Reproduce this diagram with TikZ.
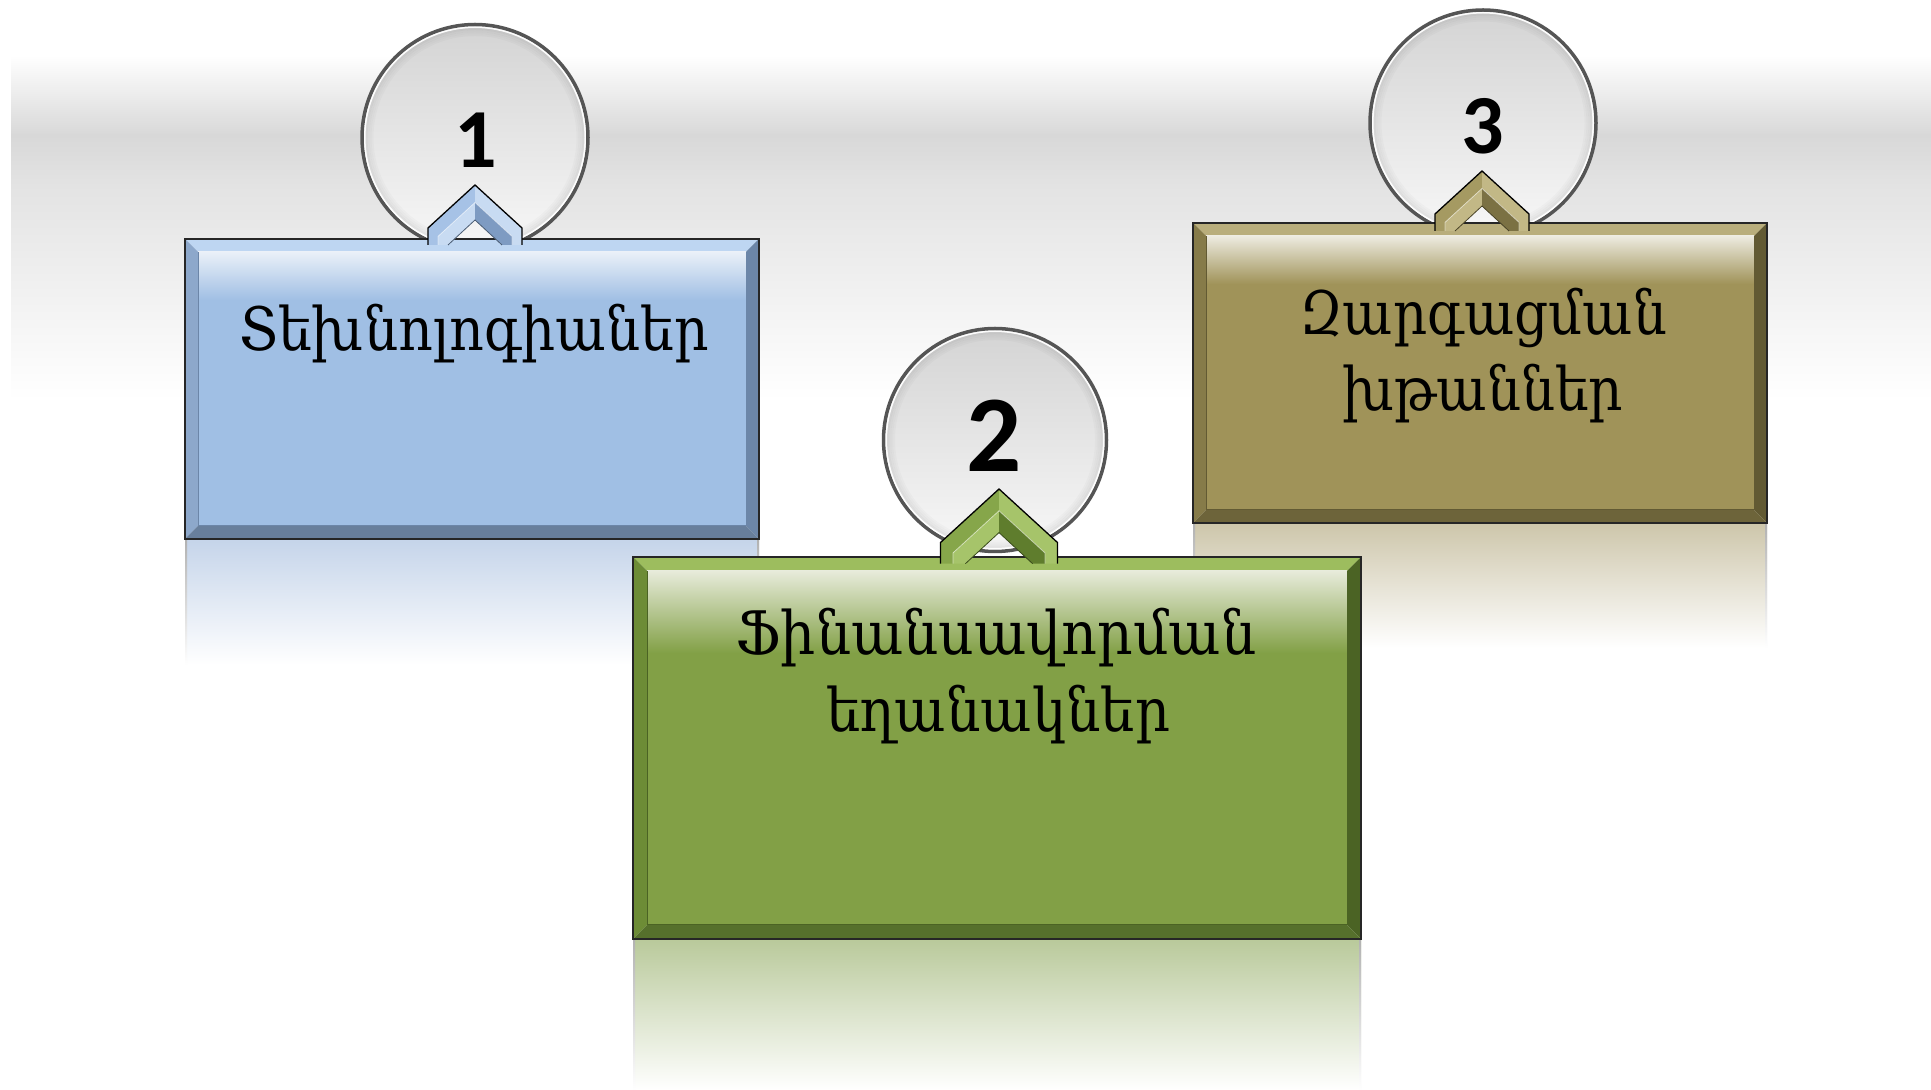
\documentclass[tikz,border=0pt]{standalone}
\usepackage{fontspec}
\usepackage{graphicx}
\newfontfamily\armfont{DejaVu Serif}
\newfontfamily\numfont{Carlito}

\definecolor{bgA}{HTML}{D8D8D8}
\definecolor{bgB}{HTML}{E3E3E3}
% blue
\definecolor{bmain}{HTML}{A0BFE4}
\definecolor{btop}{HTML}{BED6F2}
\definecolor{bleft}{HTML}{8DA8CB}
\definecolor{bright}{HTML}{6C86A8}
\definecolor{bbot}{HTML}{687F9C}
\definecolor{bgloss}{HTML}{EAF0F8}
\definecolor{brefl}{HTML}{C6D5EA}
\definecolor{bchev}{HTML}{A6C2E6}
\definecolor{bchevhi}{HTML}{C8DBF2}
\definecolor{bchevlo}{HTML}{7E9BC2}
% green
\definecolor{gmain}{HTML}{82A046}
\definecolor{gtop}{HTML}{9DBD5E}
\definecolor{gleft}{HTML}{6D8C36}
\definecolor{gright}{HTML}{4B6324}
\definecolor{gbot}{HTML}{56702C}
\definecolor{ggloss}{HTML}{E7EBDA}
\definecolor{grefl}{HTML}{BACA9C}
\definecolor{gchev}{HTML}{86A64A}
\definecolor{gchevhi}{HTML}{A6C46A}
\definecolor{gchevlo}{HTML}{5F7D2D}
% olive
\definecolor{omain}{HTML}{A09359}
\definecolor{otop}{HTML}{B9AE7C}
\definecolor{oleft}{HTML}{867B49}
\definecolor{oright}{HTML}{625A33}
\definecolor{obot}{HTML}{6D643A}
\definecolor{ogloss}{HTML}{EDEBE0}
\definecolor{orefl}{HTML}{CEC7AC}
\definecolor{ochev}{HTML}{A59A62}
\definecolor{ochevhi}{HTML}{C2B886}
\definecolor{ochevlo}{HTML}{7B7143}
\definecolor{rimgray}{HTML}{555555}

\newsavebox\fitbox
\newcommand\fitw[2]{\sbox\fitbox{#2}\pgfmathsetmacro\fitr{#1/\the\wd\fitbox}\scalebox{\fitr}[1]{\usebox\fitbox}}

% x1,y1,x2,y2,frame,prefix,gloss
\newcommand\bevbox[7]{%
 \fill[#6top] (#1,#4) -- (#3,#4) -- ({#3-#5},{#4-#5}) -- ({#1+#5},{#4-#5}) -- cycle;
 \fill[#6left] (#1,#2) -- (#1,#4) -- ({#1+#5},{#4-#5}) -- ({#1+#5},{#2+#5}) -- cycle;
 \fill[#6right] (#3,#2) -- (#3,#4) -- ({#3-#5},{#4-#5}) -- ({#3-#5},{#2+#5}) -- cycle;
 \fill[#6bot] (#1,#2) -- (#3,#2) -- ({#3-#5},{#2+#5}) -- ({#1+#5},{#2+#5}) -- cycle;
 \fill[#6main] ({#1+#5},{#2+#5}) rectangle ({#3-#5},{#4-#5});
 \shade[top color=#6gloss, bottom color=#6main] ({#1+#5},{#4-#5-#7}) rectangle ({#3-#5},{#4-#5});
 \draw[#6right, line width=1pt] ({#1+#5},{#4-#5}) -- ({#1+#5},{#2+#5}) -- ({#3-#5},{#2+#5}) -- ({#3-#5},{#4-#5});
 \draw[black!85, line width=2pt] (#1,#2) rectangle (#3,#4);
}
% x1,x2,ytop,ybottom,colour
\newcommand\refl[5]{%
 \shade[top color=#5, bottom color=white] (#1,#4) rectangle (#2,#3);
 \shade[top color=black!30, bottom color=white] (#1,#4) rectangle ({#1+2},#3);
 \shade[top color=black!30, bottom color=white] ({#2-2},#4) rectangle (#2,#3);
}
% cx, apex y, scale, prefix
\newcommand\chev[4]{%
 \begin{scope}[shift={(#1,#2)}, scale=#3]
  \fill[#4chev] (-47,-43) -- (0,0) -- (0,-17.5) -- (-37,-51.4) -- (-37,-60) -- (-47,-60) -- cycle;
  \fill[#4chevhi] (-37,-51.4) -- (0,-17.5) -- (0,-35) -- (-27,-60) -- (-37,-60) -- cycle;
  \fill[#4chevhi] (47,-43) -- (0,0) -- (0,-17.5) -- (37,-51.4) -- (37,-60) -- (47,-60) -- cycle;
  \fill[#4chevlo] (37,-51.4) -- (0,-17.5) -- (0,-35) -- (27,-60) -- (37,-60) -- cycle;
  \draw[white, opacity=0.5, line width=0.8pt] (-37,-60) -- (-37,-51.4) -- (0,-17.5) -- (37,-51.4) -- (37,-60);
  \draw[#4chevlo!60!black, line width=0.8pt] (-27,-60) -- (0,-35) -- (27,-60);
  \draw[black, line width=1.3pt, line join=miter] (-47,-60) -- (-47,-43) -- (0,0) -- (47,-43) -- (47,-60);
 \end{scope}}

\tikzset{
 glass/.style={circle, inner sep=0pt, minimum size=#1, top color=black!17, bottom color=black!3, draw=rimgray, line width=3.5pt},
 num/.style={font=\numfont\bfseries\fontsize{84}{84}\selectfont, inner sep=0pt, anchor=base},
 txt/.style={font=\armfont\fontsize{60}{72}\selectfont, inner sep=0pt, anchor=base}
}
\newcommand\glassdeco[2]{%
 \draw[white, line width=1.5pt, opacity=0.95] (#1.center) circle[radius={#2-2.8}];
 \draw[black, line width=2pt, opacity=0.07] (#1.center) circle[radius={#2-4.5}];
 \draw[black, line width=2pt, opacity=0.05] (#1.center) circle[radius={#2-6.5}];
 \draw[black, line width=2pt, opacity=0.035] (#1.center) circle[radius={#2-8.5}];
 \draw[black, line width=2pt, opacity=0.02] (#1.center) circle[radius={#2-10.5}];
}

\begin{document}
\begin{tikzpicture}[x=1pt,y=1pt]
\useasboundingbox (0,0) rectangle (1931,1090);
% background
\fill[white] (0,0) rectangle (1931,1090);
\shade[top color=white, bottom color=bgA] (11,954.5) rectangle (1931,1035);
\shade[top color=bgA, bottom color=bgB] (11,904.5) rectangle (1931,955);
\shade[top color=bgB, bottom color=white] (11,690) rectangle (1931,905);

% reflections
\refl{185}{759}{549}{425}{brefl}
\refl{1193}{1767}{565}{442}{orefl}
\refl{633}{1361}{149}{0}{grefl}

% item 1
\node[glass=226pt] (c1) at (475,952.5) {};
\glassdeco{c1}{113}
\node[num] (n1) at (476,922) {1};
\bevbox{185}{551}{759}{851}{13}{b}{48}
\chev{475}{905}{1}{b}

% item 3
\node[glass=226pt] (c3) at (1483,967) {};
\glassdeco{c3}{113}
\node[num] (n3) at (1483,936.4) {3};
\bevbox{1193}{567}{1767}{867}{13}{o}{48}
\chev{1482}{919}{1}{o}

% item 2
\node[glass=223pt] (c2) at (995,650) {};
\glassdeco{c2}{111.5}
\node[num, font=\numfont\bfseries\fontsize{109}{109}\selectfont] (n2) at (994,618) {2};
\bevbox{633}{151}{1361}{533}{14}{g}{82}
\chev{999}{601}{1.245}{g}

% texts
\node[txt] (t1) at (474,739) {\fitw{470pt}{Տեխնոլոգիաներ}};
\node[txt] (t2a) at (996,435) {\fitw{521pt}{Ֆինանսավորման}};
\node[txt] (t2b) at (998,358) {\fitw{344pt}{եղանակներ}};
\node[txt] (t3a) at (1483,755) {\fitw{368pt}{Զարգացման}};
\node[txt] (t3b) at (1482.5,679.5) {\fitw{281pt}{խթաններ}};
\end{tikzpicture}
\end{document}
